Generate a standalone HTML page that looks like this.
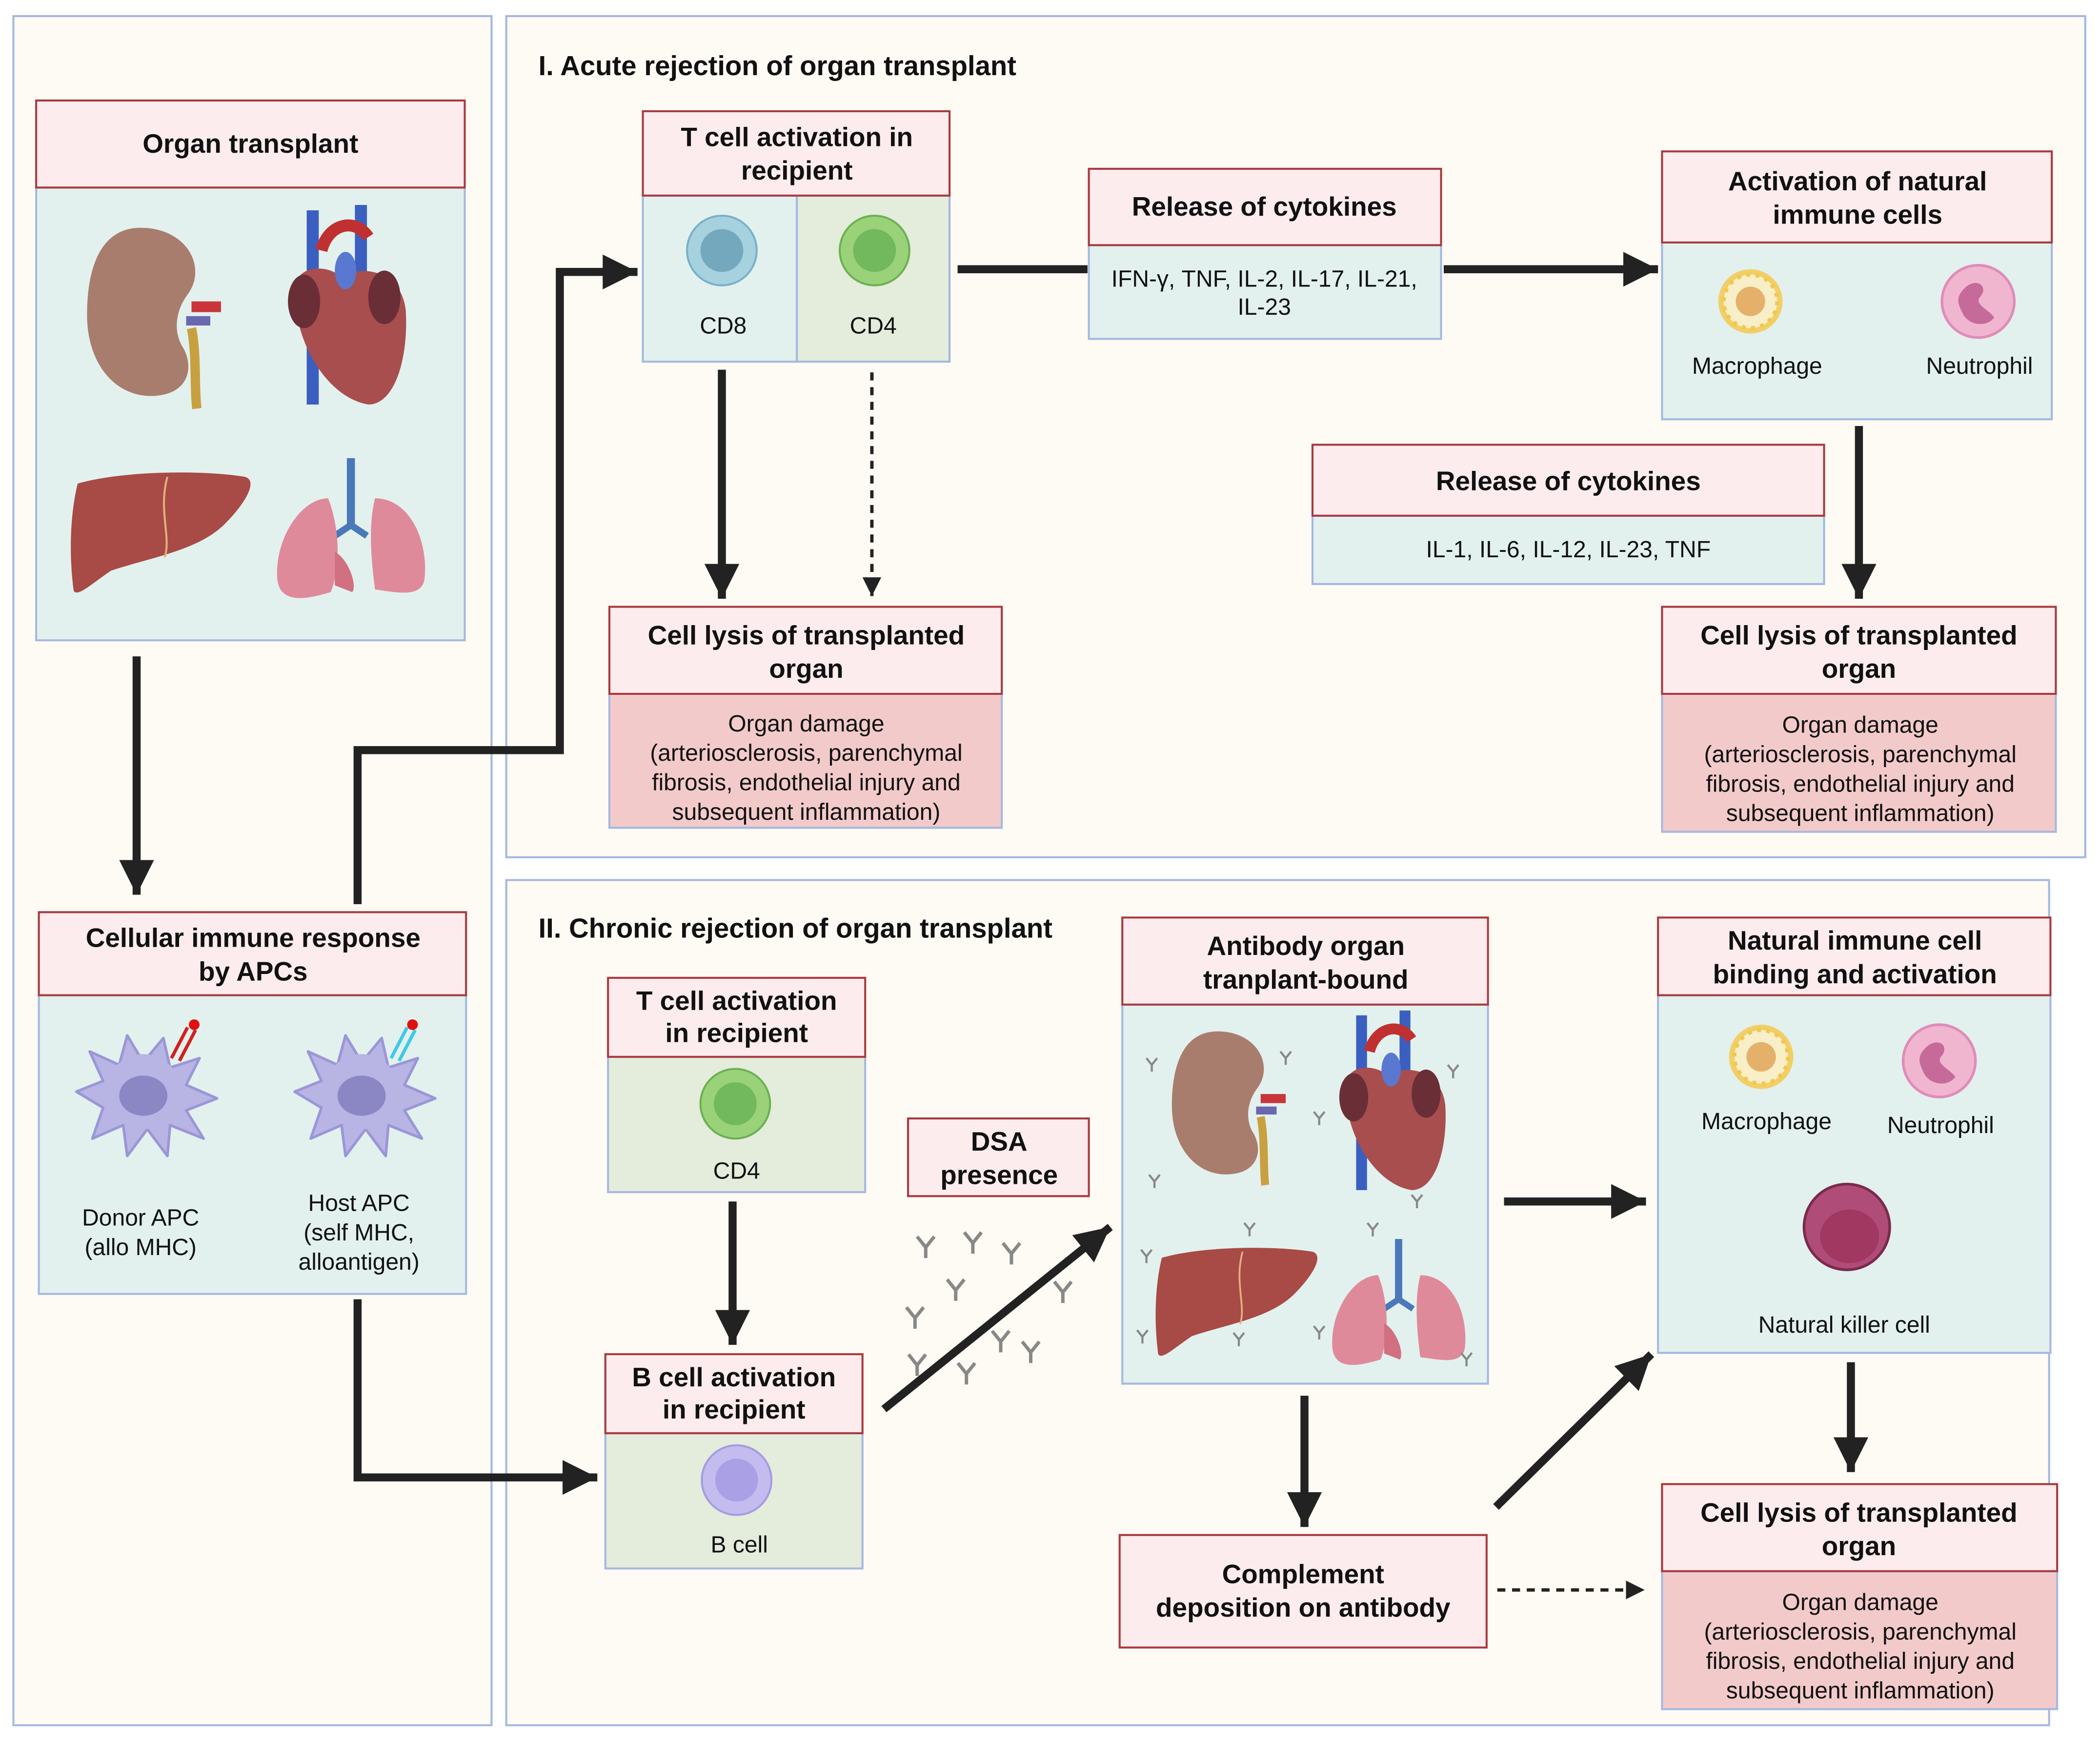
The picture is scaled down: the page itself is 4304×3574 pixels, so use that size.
<!DOCTYPE html>
<html><head><meta charset="utf-8"><style>
html,body{margin:0;padding:0;background:#fff;}
svg{display:block}
text{font-family:"Liberation Sans",sans-serif;fill:#111;}
.h{font-weight:bold;font-size:20px;text-anchor:middle}
.b{font-size:17.5px;text-anchor:middle}
.t{font-weight:bold;font-size:20.5px}
</style></head><body>
<svg width="4304" height="3574" viewBox="0 0 1568 1302" xmlns="http://www.w3.org/2000/svg">
<defs>
<marker id="ah" markerUnits="userSpaceOnUse" markerWidth="30" markerHeight="30" refX="26" refY="13" orient="auto"><path d="M0,0 L26,13 L0,26 Z" fill="#222"/></marker>
<marker id="as" markerUnits="userSpaceOnUse" markerWidth="20" markerHeight="20" refX="14" refY="7" orient="auto"><path d="M0,0 L14,7 L0,14 Z" fill="#222"/></marker>
<g id="ab"><path d="M0,0 L0,5 M0,0 L-4,-5 M0,0 L4,-5" stroke="#888" stroke-width="1.6" fill="none"/></g>
<g id="kid"><path d="M40,0 C10,0 0,30 0,65 C0,105 25,130 55,125 C75,122 80,105 72,90 C64,78 66,62 75,50 C90,30 75,0 40,0Z" fill="#a97d6e"/><rect x="78" y="55" width="22" height="8" fill="#c9353a"/><rect x="74" y="66" width="18" height="7" fill="#6a66b0"/><path d="M78,75 C82,95 80,120 82,135" stroke="#c9a040" stroke-width="7" fill="none"/></g>
<g id="heart"><rect x="14" y="0" width="9" height="145" fill="#3a5fc0"/><rect x="50" y="-4" width="9" height="60" fill="#3a5fc0"/><path d="M25,30 C30,10 50,5 60,20" stroke="#c03030" stroke-width="9" fill="none"/><path d="M5,60 C5,40 30,40 40,50 C55,40 85,45 88,75 C90,110 80,145 60,145 C30,140 5,100 5,60Z" fill="#a84e4e"/><ellipse cx="12" cy="68" rx="12" ry="20" fill="#6a2e36"/><ellipse cx="72" cy="65" rx="12" ry="20" fill="#6a2e36"/><ellipse cx="43" cy="45" rx="8" ry="14" fill="#5a78d0"/></g>
<g id="liv"><path d="M5,10 C40,0 100,0 130,5 C140,8 130,25 115,40 C95,60 60,65 30,75 C15,85 5,95 2,90 C-2,60 0,30 5,10Z" fill="#a84a45"/><path d="M72,5 C65,30 75,50 70,65" stroke="#e0b080" stroke-width="1.5" fill="none"/></g>
<g id="lung"><rect x="54" y="0" width="6" height="50" fill="#4a78b8"/><path d="M57,50 L45,58 M57,50 L69,58" stroke="#4a78b8" stroke-width="5"/><path d="M40,30 C20,30 0,60 2,90 C4,110 25,105 42,100 C50,80 48,50 40,30Z" fill="#df8a9a"/><path d="M75,30 C100,30 115,60 112,90 C110,105 90,100 75,98 C72,75 70,50 75,30Z" fill="#df8a9a"/><path d="M45,70 C55,75 62,95 58,100 L45,95Z" fill="#d07080"/></g>
<g id="mac"><circle r="24" fill="#f2cf66"/><circle r="20" fill="#f8efc8" stroke="#f0c850" stroke-width="3" stroke-dasharray="3 4"/><circle r="11" fill="#e5b16a"/></g>
<g id="neu"><circle r="27" fill="#f0b6d0" stroke="#e08cb8" stroke-width="2"/><path d="M-10,-10 C-2,-18 8,-12 2,-4 C-4,2 8,6 12,12 C6,20 -8,18 -12,8 C-16,0 -16,-4 -10,-10Z" fill="#c66a9a"/></g>
<g id="apc"><path d="M-50,0 L-30,-8 L-40,-30 L-18,-20 L-12,-42 L0,-22 L15,-40 L20,-18 L42,-25 L32,-5 L55,5 L32,14 L45,35 L20,25 L18,48 L3,28 L-12,48 L-15,25 L-38,35 L-30,12Z" fill="#b8b4e4" stroke="#9b96d6" stroke-width="2" stroke-linejoin="round"/><circle r="28" fill="#b8b4e4"/><ellipse cx="0" cy="3" rx="18" ry="15" fill="#8b87c4"/></g>
</defs>
<rect width="1568" height="1302" fill="#fff"/>
<rect x="10" y="12" width="357" height="1276" fill="#fdfbf4" stroke="#a4b8e0" stroke-width="1.5"/>
<rect x="378" y="12" width="1179" height="628" fill="#fdfbf4" stroke="#a4b8e0" stroke-width="1.5"/>
<rect x="378" y="657" width="1152" height="631" fill="#fdfbf4" stroke="#a4b8e0" stroke-width="1.5"/>
<text x="402" y="56" class="t">I. Acute rejection of organ transplant</text>
<text x="402" y="700" class="t">II. Chronic rejection of organ transplant</text>

<g stroke-width="1.5">
<rect x="27" y="140" width="320" height="338" fill="#e2f1ee" stroke="#a4b8e0"/>
<rect x="27" y="75" width="320" height="65" fill="#fcecee" stroke="#a83a40"/>
<rect x="29" y="743" width="319" height="223" fill="#e2f1ee" stroke="#a4b8e0"/>
<rect x="29" y="681" width="319" height="62" fill="#fcecee" stroke="#a83a40"/>
<rect x="480" y="146" width="115" height="124" fill="#e2f1ee" stroke="#a4b8e0"/>
<rect x="595" y="146" width="114" height="124" fill="#e4ecdc" stroke="#a4b8e0"/>
<rect x="480" y="83" width="229" height="63" fill="#fcecee" stroke="#a83a40"/>
<rect x="813" y="183" width="263" height="70" fill="#e2f1ee" stroke="#a4b8e0"/>
<rect x="813" y="126" width="263" height="57" fill="#fcecee" stroke="#a83a40"/>
<rect x="1241" y="181" width="291" height="132" fill="#e2f1ee" stroke="#a4b8e0"/>
<rect x="1241" y="113" width="291" height="68" fill="#fcecee" stroke="#a83a40"/>
<rect x="980" y="385" width="382" height="51" fill="#e2f1ee" stroke="#a4b8e0"/>
<rect x="980" y="332" width="382" height="53" fill="#fcecee" stroke="#a83a40"/>
<rect x="455" y="518" width="293" height="100" fill="#f3caca" stroke="#a4b8e0"/>
<rect x="455" y="453" width="293" height="65" fill="#fcecee" stroke="#a83a40"/>
<rect x="1241" y="518" width="294" height="103" fill="#f3caca" stroke="#a4b8e0"/>
<rect x="1241" y="453" width="294" height="65" fill="#fcecee" stroke="#a83a40"/>
<rect x="454" y="789" width="192" height="101" fill="#e4ecdc" stroke="#a4b8e0"/>
<rect x="454" y="730" width="192" height="59" fill="#fcecee" stroke="#a83a40"/>
<rect x="452" y="1070" width="192" height="101" fill="#e4ecdc" stroke="#a4b8e0"/>
<rect x="452" y="1011" width="192" height="59" fill="#fcecee" stroke="#a83a40"/>
<rect x="678" y="835" width="135" height="58" fill="#fcecee" stroke="#a83a40"/>
<rect x="838" y="750" width="273" height="283" fill="#e2f1ee" stroke="#a4b8e0"/>
<rect x="838" y="685" width="273" height="65" fill="#fcecee" stroke="#a83a40"/>
<rect x="1238" y="743" width="293" height="267" fill="#e2f1ee" stroke="#a4b8e0"/>
<rect x="1238" y="685" width="293" height="58" fill="#fcecee" stroke="#a83a40"/>
<rect x="836" y="1146" width="274" height="84" fill="#fcecee" stroke="#a83a40"/>
<rect x="1241" y="1173" width="295" height="103" fill="#f3caca" stroke="#a4b8e0"/>
<rect x="1241" y="1108" width="295" height="65" fill="#fcecee" stroke="#a83a40"/>
</g>

<text x="187" y="114" class="h">Organ transplant</text>
<text x="189" y="707" class="h">Cellular immune response</text><text x="189" y="732" class="h">by APCs</text>
<text x="595" y="109" class="h">T cell activation in</text><text x="595" y="134" class="h">recipient</text>
<text x="944" y="161" class="h">Release of cytokines</text>
<text x="1387" y="142" class="h">Activation of natural</text><text x="1387" y="167" class="h">immune cells</text>
<text x="1171" y="366" class="h">Release of cytokines</text>
<text x="602" y="481" class="h">Cell lysis of transplanted</text><text x="602" y="506" class="h">organ</text>
<text x="1388" y="481" class="h">Cell lysis of transplanted</text><text x="1388" y="506" class="h">organ</text>
<text x="550" y="754" class="h">T cell activation</text><text x="550" y="778" class="h">in recipient</text>
<text x="548" y="1035" class="h">B cell activation</text><text x="548" y="1059" class="h">in recipient</text>
<text x="746" y="859" class="h">DSA</text><text x="746" y="884" class="h">presence</text>
<text x="975" y="713" class="h">Antibody organ</text><text x="975" y="738" class="h">tranplant-bound</text>
<text x="1385" y="709" class="h">Natural immune cell</text><text x="1385" y="734" class="h">binding and activation</text>
<text x="973" y="1182" class="h">Complement</text><text x="973" y="1207" class="h">deposition on antibody</text>
<text x="1388" y="1136" class="h">Cell lysis of transplanted</text><text x="1388" y="1161" class="h">organ</text>

<text x="540" y="249" class="b">CD8</text><text x="652" y="249" class="b">CD4</text>
<text x="944" y="214" class="b">IFN-γ, TNF, IL-2, IL-17, IL-21,</text><text x="944" y="235" class="b">IL-23</text>
<text x="1312" y="279" class="b">Macrophage</text><text x="1478" y="279" class="b">Neutrophil</text>
<text x="1171" y="416" class="b">IL-1, IL-6, IL-12, IL-23, TNF</text>
<text x="602" y="546" class="b">Organ damage</text><text x="602" y="568" class="b">(arteriosclerosis, parenchymal</text><text x="602" y="590" class="b">fibrosis, endothelial injury and</text><text x="602" y="612" class="b">subsequent inflammation)</text>
<text x="1389" y="547" class="b">Organ damage</text><text x="1389" y="569" class="b">(arteriosclerosis, parenchymal</text><text x="1389" y="591" class="b">fibrosis, endothelial injury and</text><text x="1389" y="613" class="b">subsequent inflammation)</text>
<text x="1389" y="1202" class="b">Organ damage</text><text x="1389" y="1224" class="b">(arteriosclerosis, parenchymal</text><text x="1389" y="1246" class="b">fibrosis, endothelial injury and</text><text x="1389" y="1268" class="b">subsequent inflammation)</text>
<text x="105" y="915" class="b">Donor APC</text><text x="105" y="937" class="b">(allo MHC)</text>
<text x="268" y="904" class="b">Host APC</text><text x="268" y="926" class="b">(self MHC,</text><text x="268" y="948" class="b">alloantigen)</text>
<text x="550" y="880" class="b">CD4</text>
<text x="552" y="1159" class="b">B cell</text>
<text x="1319" y="843" class="b">Macrophage</text><text x="1449" y="846" class="b">Neutrophil</text>
<text x="1377" y="995" class="b">Natural killer cell</text>

<circle cx="539" cy="187" r="26" fill="#a6d2e0" stroke="#7ab0c8" stroke-width="1.5"/><circle cx="539" cy="187" r="16" fill="#74a8bc"/>
<circle cx="653" cy="187" r="26" fill="#9ad27a" stroke="#6cb052" stroke-width="1.5"/><circle cx="653" cy="187" r="16" fill="#72b85c"/>
<circle cx="549" cy="824" r="26" fill="#9ad27a" stroke="#6cb052" stroke-width="1.5"/><circle cx="549" cy="824" r="16" fill="#72b85c"/>
<circle cx="550" cy="1105" r="26" fill="#c4bcef" stroke="#a49ce0" stroke-width="1.5"/><circle cx="550" cy="1105" r="16" fill="#aaa0e6"/>
<use href="#mac" x="1307" y="225"/><use href="#neu" x="1477" y="225"/>
<use href="#mac" x="1315" y="789"/><use href="#neu" x="1448" y="792"/>
<circle cx="1379" cy="916" r="32" fill="#b04c78" stroke="#7a2a4c" stroke-width="2"/><ellipse cx="1381" cy="923" rx="22" ry="20" fill="#a03862"/>
<use href="#apc" x="107" y="815"/><use href="#apc" x="270" y="815"/>
<path d="M128,790 L140,767 M134,792 L146,769" stroke="#d02020" stroke-width="2.5"/><circle cx="145" cy="765" r="4" fill="#e01010"/>
<path d="M292,790 L304,767 M298,792 L310,769" stroke="#40c8e8" stroke-width="2.5"/><circle cx="308" cy="765" r="4" fill="#e01010"/>

<use href="#kid" x="65" y="170"/>
<use href="#heart" x="215" y="157"/>
<use href="#liv" x="53" y="351"/>
<use href="#lung" x="205" y="342"/>
<g transform="translate(875,770) scale(0.85)"><use href="#kid"/></g>
<g transform="translate(1000,758) scale(0.9)"><use href="#heart"/></g>
<g transform="translate(863,930) scale(0.9)"><use href="#liv"/></g>
<g transform="translate(993,925) scale(0.9)"><use href="#lung"/></g>
<g>
<use href="#ab" x="860" y="795"/><use href="#ab" x="960" y="790"/><use href="#ab" x="985" y="835"/><use href="#ab" x="862" y="882"/><use href="#ab" x="1085" y="800"/><use href="#ab" x="1058" y="897"/><use href="#ab" x="933" y="918"/><use href="#ab" x="856" y="938"/><use href="#ab" x="1025" y="918"/><use href="#ab" x="853" y="998"/><use href="#ab" x="925" y="1000"/><use href="#ab" x="985" y="995"/><use href="#ab" x="1095" y="1015"/>
</g>
<g transform="scale(1.6)">
<use href="#ab" x="432" y="582"/><use href="#ab" x="454" y="580"/><use href="#ab" x="472" y="585"/><use href="#ab" x="496" y="603"/><use href="#ab" x="427" y="615"/><use href="#ab" x="446" y="602"/><use href="#ab" x="467" y="626"/><use href="#ab" x="451" y="641"/><use href="#ab" x="481" y="631"/><use href="#ab" x="428" y="637"/>
</g>

<g stroke="#222" stroke-width="6" fill="none">
<line x1="102" y1="490" x2="102" y2="668" marker-end="url(#ah)"/>
<polyline points="267,675 267,560 418,560 418,203 476,203" marker-end="url(#ah)"/>
<polyline points="267,970 267,1103 446,1103" marker-end="url(#ah)"/>
<line x1="539" y1="276" x2="539" y2="447" marker-end="url(#ah)"/>
<line x1="651" y1="278" x2="651" y2="445" stroke-width="2.5" stroke-dasharray="6 5" marker-end="url(#as)"/>
<line x1="715" y1="201" x2="812" y2="201"/>
<line x1="1078" y1="201" x2="1238" y2="201" marker-end="url(#ah)"/>
<line x1="1388" y1="318" x2="1388" y2="447" marker-end="url(#ah)"/>
<line x1="547" y1="897" x2="547" y2="1004" marker-end="url(#ah)"/>
<line x1="660" y1="1052" x2="829" y2="916" marker-end="url(#ah)"/>
<line x1="1123" y1="897" x2="1229" y2="897" marker-end="url(#ah)"/>
<line x1="974" y1="1042" x2="974" y2="1140" marker-end="url(#ah)"/>
<line x1="1117" y1="1125" x2="1233" y2="1011" marker-end="url(#ah)"/>
<line x1="1118" y1="1187" x2="1228" y2="1187" stroke-width="2.5" stroke-dasharray="6 5" marker-end="url(#as)"/>
<line x1="1382" y1="1017" x2="1382" y2="1099" marker-end="url(#ah)"/>
</g>
</svg>
</body></html>
